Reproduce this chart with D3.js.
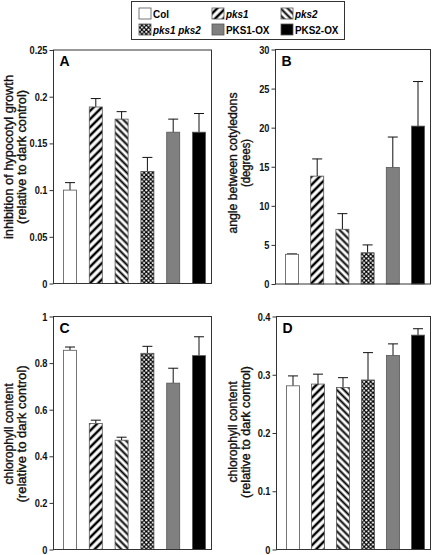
<!DOCTYPE html>
<html><head><meta charset="utf-8">
<script src="https://cdn.jsdelivr.net/npm/d3@7"></script>
<style>
body{margin:0;background:#fff;}
svg{display:block;font-family:"Liberation Sans",Arial,sans-serif;}
</style></head>
<body><svg id="c" width="432" height="555"></svg>
<script>
const categories = ["Col","pks1","pks2","pks1 pks2","PKS1-OX","PKS2-OX"];
const legendItalic = [false,true,true,true,false,false];

const hypocotylMean = [0.100,0.189,0.176,0.120,0.162,0.162];
const hypocotylErr  = [0.008,0.009,0.008,0.015,0.014,0.020];
const hypocotylTicks = ["0","0.05","0.1","0.15","0.2","0.25"];

const angleMean = [3.8,13.8,7.0,4.0,14.9,20.2];
const angleErr  = [0.05,2.2,2.0,1.0,3.9,5.7];
const angleTicks = ["0","5","10","15","20","25","30"];

const chlorCMean = [0.855,0.541,0.469,0.842,0.714,0.832];
const chlorCErr  = [0.014,0.014,0.013,0.030,0.064,0.081];
const chlorCTicks = ["0","0.2","0.4","0.6","0.8","1"];

const chlorDMean = [0.281,0.284,0.278,0.291,0.333,0.368];
const chlorDErr  = [0.017,0.017,0.017,0.047,0.020,0.011];
const chlorDTicks = ["0","0.1","0.2","0.3","0.4"];

const svg = d3.select("#c");
const defs = svg.append("defs");

function condense(sel, f){
  sel.each(function(){
    const L = this.getComputedTextLength();
    d3.select(this).attr("textLength", L*f).attr("lengthAdjust","spacingAndGlyphs");
  });
}

function stripe(id, angle, period, sw){
  const p = defs.append("pattern").attr("id",id).attr("patternUnits","userSpaceOnUse")
    .attr("width",period).attr("height",period).attr("patternTransform",`rotate(${angle})`);
  p.append("rect").attr("width",period).attr("height",period).attr("fill","#fff");
  p.append("line").attr("x1",period/2).attr("x2",period/2).attr("y1",-1).attr("y2",period+1)
    .attr("stroke","#000").attr("stroke-width",sw);
}
stripe("hatchR",45,5.8,2.5);
stripe("hatchL",-45,5.0,2.0);
(function(){
  const s=4.4;
  const p = defs.append("pattern").attr("id","dots").attr("patternUnits","userSpaceOnUse")
    .attr("width",s).attr("height",s);
  p.append("rect").attr("width",s).attr("height",s).attr("fill","#000");
  p.append("circle").attr("cx",s/4).attr("cy",s/4).attr("r",1.05).attr("fill","#fff");
  p.append("circle").attr("cx",3*s/4).attr("cy",3*s/4).attr("r",1.05).attr("fill","#fff");
})();
const fills = ["#fff","url(#hatchR)","url(#hatchL)","url(#dots)","#808080","#000"];

function panel(o){
  const {x0,x1,yTop,yBot,max,means,errs,ticks,letter,title1,title2,tx,cy,len1,len2} = o;
  const W = x1-x0-16, bw = 13;
  const p = (W-6*bw)/(W-bw);
  const x = d3.scaleBand().domain(categories).range([x0+10,x1-6]).paddingInner(p).paddingOuter(0);
  const y = d3.scaleLinear().domain([0,max]).range([yBot,yTop]);
  const g = svg.append("g");
  categories.forEach((c,i)=>{
    const top = y(means[i]), et = y(means[i]+errs[i]);
    const cx = x(c)+x.bandwidth()/2;
    g.append("line").attr("x1",cx).attr("x2",cx).attr("y1",top).attr("y2",et).attr("stroke","#111").attr("stroke-width",1);
    g.append("line").attr("x1",cx-5).attr("x2",cx+5).attr("y1",et).attr("y2",et).attr("stroke","#111").attr("stroke-width",1);
    g.append("rect").attr("x",x(c)).attr("y",top).attr("width",x.bandwidth()).attr("height",yBot-top)
      .attr("fill",fills[i]).attr("stroke","#555").attr("stroke-width",0.8);
  });
  g.append("rect").attr("x",x0).attr("y",yTop).attr("width",x1-x0).attr("height",yBot-yTop)
    .attr("fill","none").attr("stroke","#333").attr("stroke-width",1);
  const ax = g.append("g").attr("transform",`translate(${x0},0)`)
    .call(d3.axisLeft(y).tickValues(ticks.map(Number)).tickSize(4).tickPadding(2)
      .tickFormat((d,i)=>ticks[i]));
  ax.attr("font-family",null).attr("font-size",null);
  ax.select(".domain").remove();
  ax.selectAll(".tick line").attr("stroke","#333");
  const tl = ax.selectAll("text").attr("font-size",11).attr("font-weight","bold").attr("fill","#111");
  condense(tl, 0.84);
  g.append("text").attr("x",x0+6).attr("y",yTop+16).text(letter)
    .attr("font-size",14).attr("font-weight","bold");
  const t = g.append("text").attr("transform",`translate(${tx},${cy}) rotate(-90)`)
    .attr("text-anchor","middle").attr("font-size",12).attr("fill","#111")
    .attr("stroke","#111").attr("stroke-width",0.35);
  t.append("tspan").attr("x",0).attr("dy",0).text(title1)
    .attr("textLength",len1).attr("lengthAdjust","spacingAndGlyphs");
  t.append("tspan").attr("x",0).attr("dy",12.5).text(title2)
    .attr("textLength",len2).attr("lengthAdjust","spacingAndGlyphs");
}

panel({x0:53.5,x1:211.5,yTop:50,yBot:283.5,max:0.25,means:hypocotylMean,errs:hypocotylErr,ticks:hypocotylTicks,
  letter:"A",title1:"inhibition of hypocotyl growth",title2:"(relative to dark control)",tx:13,cy:157,len1:164,len2:134});
panel({x0:275.5,x1:430.5,yTop:49.5,yBot:284,max:30,means:angleMean,errs:angleErr,ticks:angleTicks,
  letter:"B",title1:"angle between cotyledons",title2:"(degrees)",tx:237,cy:163,len1:141,len2:48});
panel({x0:53.5,x1:211.5,yTop:316.5,yBot:549.5,max:1,means:chlorCMean,errs:chlorCErr,ticks:chlorCTicks,
  letter:"C",title1:"chlorophyll content",title2:"(relative to dark control)",tx:13,cy:434,len1:101,len2:137});
panel({x0:276.5,x1:430.5,yTop:316.5,yBot:549.5,max:0.4,means:chlorDMean,errs:chlorDErr,ticks:chlorDTicks,
  letter:"D",title1:"chlorophyll content",title2:"(relative to dark control)",tx:237,cy:432,len1:101,len2:132});

const lg = svg.append("g");
lg.append("rect").attr("x",131.5).attr("y",1.5).attr("width",213).attr("height",38)
  .attr("fill","#fff").attr("stroke","#333").attr("stroke-width",1);
const colX = [139,212,281], rowY = [8,24];
categories.forEach((c,i)=>{
  const cx = colX[i%3], ry = rowY[Math.floor(i/3)];
  lg.append("rect").attr("x",cx).attr("y",ry).attr("width",12).attr("height",11)
    .attr("fill",fills[i]).attr("stroke","#555").attr("stroke-width",0.8);
  const tx = lg.append("text").attr("x",cx+14).attr("y",ry+10).text(c)
    .attr("font-size",11.5).attr("font-weight","bold").attr("font-style",legendItalic[i]?"italic":"normal");
  condense(tx, 0.86);
});
</script></body></html>
